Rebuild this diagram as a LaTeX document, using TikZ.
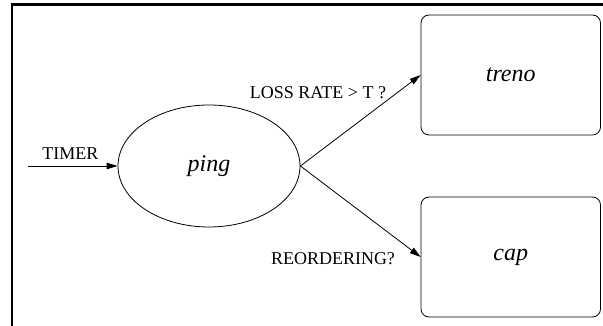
\documentclass[tikz,border=0pt]{standalone}
\usepackage{fontspec}
\setmainfont{Liberation Serif}
\usetikzlibrary{shapes.geometric,arrows.meta}
\begin{document}
\begin{tikzpicture}[x=1pt,y=1pt,
  conn/.style={line width=0.8pt,-{Triangle[length=11pt,width=6.5pt]}},
  lbl/.style={anchor=base,inner sep=0pt,font=\fontsize{18}{20}\selectfont},
  statebox/.style={draw,line width=0.8pt,rounded corners=8pt,minimum width=179.5pt,minimum height=120pt,inner sep=0pt,font=\fontsize{24}{26}\selectfont\itshape},
  stateell/.style={draw,ellipse,line width=0.8pt,minimum width=182pt,minimum height=122pt,inner sep=0pt,font=\fontsize{24}{26}\selectfont\itshape}]
\useasboundingbox (0,0) rectangle (603,326);
\draw[line width=2.5pt] (12,0) -- (12,321.5) -- (603,321.5);
\node[stateell] (ping) at (209,160) {ping};
\node[statebox] (treno) at (510.75,251) {treno};
\node[statebox] (cap) at (510.75,69) {cap};
\coordinate (timer) at (28,160);
\draw[conn] (timer) -- (ping.west);
\draw[conn] (ping.east) -- (treno.west);
\draw[conn] (ping.east) -- (cap.west);
\node[lbl] (ltimer) at (70.3,166.7) {TIMER};
\node[lbl] (lloss) at (318,227) {LOSS RATE > T ?};
\node[lbl] (lreord) at (333,61) {REORDERING?};
\end{tikzpicture}
\end{document}
